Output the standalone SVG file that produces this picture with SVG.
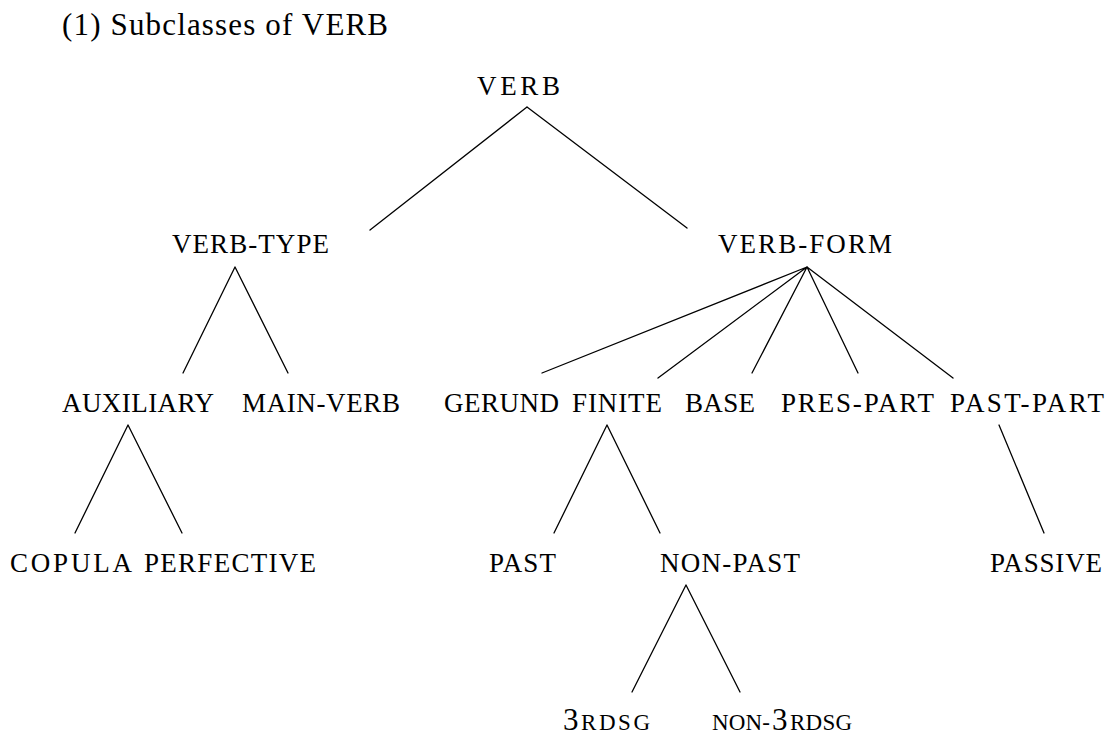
<svg xmlns="http://www.w3.org/2000/svg" width="1108" height="735" viewBox="0 0 1108 735">
  <style>
    .title { font-family: "Liberation Serif", "DejaVu Serif", serif; font-size: 31px; fill: #000; }
    .lbl { font-family: "Liberation Serif", "DejaVu Serif", serif; font-size: 27px; fill: #000; }
    .big { font-size: 31px; }
    .sc { font-size: 23px; }
    .edges path { fill: none; stroke: #000; stroke-width: 1.3; stroke-linecap: round; }
  </style>
  <rect width="1108" height="735" fill="#fff"/>

  <text class="title" x="62" y="35" textLength="326" lengthAdjust="spacing">(1) Subclasses of VERB</text>

  <!-- tree edges -->
  <g id="connectors" class="edges">
    <path d="M527,107 L370,230 M527,107 L687,228"/>
    <path d="M235,267 L183,373 M235,267 L288,373"/>
    <path d="M807,267 L542,373 M807,267 L658,378 M807,267 L752,373 M807,267 L858,373 M807,267 L953,378"/>
    <path d="M128,425 L75,533 M128,425 L182,533"/>
    <path d="M607,425 L554,533 M607,425 L660,533"/>
    <path d="M999,425 L1044,533"/>
    <path d="M686,585 L632,692 M686,585 L740,692"/>
  </g>

  <g id="verb"><text class="lbl" x="477" y="95" textLength="83" lengthAdjust="spacing">VERB</text></g>

  <g id="verb-type"><text class="lbl" x="172" y="253" textLength="157" lengthAdjust="spacing">VERB-TYPE</text></g>
  <g id="verb-form"><text class="lbl" x="718" y="253" textLength="174" lengthAdjust="spacing">VERB-FORM</text></g>

  <g id="auxiliary"><text class="lbl" x="62" y="412" textLength="152" lengthAdjust="spacing">AUXILIARY</text></g>
  <g id="main-verb"><text class="lbl" x="242" y="412" textLength="158" lengthAdjust="spacing">MAIN-VERB</text></g>
  <g id="gerund"><text class="lbl" x="444" y="412" textLength="115" lengthAdjust="spacing">GERUND</text></g>
  <g id="finite"><text class="lbl" x="572" y="412" textLength="90" lengthAdjust="spacing">FINITE</text></g>
  <g id="base"><text class="lbl" x="685" y="412" textLength="70" lengthAdjust="spacing">BASE</text></g>
  <g id="pres-part"><text class="lbl" x="781" y="412" textLength="153" lengthAdjust="spacing">PRES-PART</text></g>
  <g id="past-part"><text class="lbl" x="950" y="412" textLength="154" lengthAdjust="spacing">PAST-PART</text></g>

  <g id="copula"><text class="lbl" x="10" y="572" textLength="122" lengthAdjust="spacing">COPULA</text></g>
  <g id="perfective"><text class="lbl" x="144" y="572" textLength="172" lengthAdjust="spacing">PERFECTIVE</text></g>
  <g id="past"><text class="lbl" x="489" y="572" textLength="67" lengthAdjust="spacing">PAST</text></g>
  <g id="non-past"><text class="lbl" x="660" y="572" textLength="140" lengthAdjust="spacing">NON-PAST</text></g>
  <g id="passive"><text class="lbl" x="990" y="572" textLength="112" lengthAdjust="spacing">PASSIVE</text></g>

  <!-- digit set at full size, the rest in small capitals -->
  <g id="3rdsg">
    <text class="lbl big" x="563" y="730">3</text>
    <text class="lbl sc" x="581" y="730" textLength="69" lengthAdjust="spacing">RDSG</text>
  </g>
  <g id="non-3rdsg">
    <text class="lbl sc" x="712" y="730" textLength="58" lengthAdjust="spacing">NON-</text>
    <text class="lbl big" x="772" y="730">3</text>
    <text class="lbl sc" x="790" y="730" textLength="62" lengthAdjust="spacing">RDSG</text>
  </g>
</svg>
